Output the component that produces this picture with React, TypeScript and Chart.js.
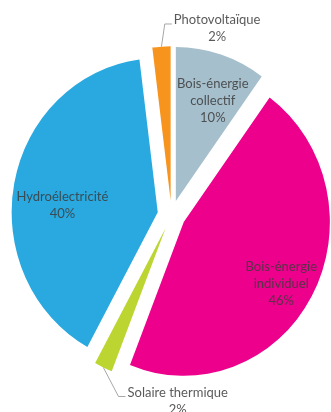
import React, { useEffect, useRef } from 'react';
import { Chart, registerables } from 'chart.js';

Chart.register(...registerables);

// ---- data ----
const categories = [
  'Bois-énergie collectif',
  'Bois-énergie individuel',
  'Solaire thermique',
  'Hydroélectricité',
  'Photovoltaïque',
];
const labelLines = [
  ['Bois-énergie', 'collectif'],
  ['Bois-énergie', 'individuel'],
  ['Solaire thermique'],
  ['Hydroélectricité'],
  ['Photovoltaïque'],
];
const shares = [10, 46, 2, 40, 2];
const colors = ['#A6BFCC', '#EC008C', '#BCD531', '#29A9E0', '#F7941D'];

// ---- styling / placement ----
const EXPLODE = 14; // px each slice is pulled out
const STRETCH_Y = 1.053; // the reference pie is slightly taller than wide
const FONT = '13px Lato, "Open Sans", sans-serif';
const LINE_H = 17;
const TEXT_COLOR = 'rgba(60,60,60,0.85)';
const LEADER_COLOR = '#A6A6A6';
// per slice: outside label?, radial fraction, angle bias (deg)
const placement = [
  { outside: false, frac: 0.70, bias: 3.2 },
  { outside: false, frac: 0.78, bias: 2.4 },
  { outside: true, frac: 1.14, bias: -8.8 },
  { outside: false, frac: 0.654, bias: -7 },
  { outside: true, frac: 1.146, bias: 1.6 },
];

const explodePlugin = {
  id: 'explode',
  afterDatasetsUpdate(chart: any) {
    const meta = chart.getDatasetMeta(0);
    meta.data.forEach((arc: any) => {
      const mid = (arc.startAngle + arc.endAngle) / 2;
      arc.x += Math.cos(mid) * EXPLODE;
      arc.y += Math.sin(mid) * EXPLODE;
    });
  },
};

const stretchPlugin = {
  id: 'stretch',
  beforeDatasetsDraw(chart: any) {
    const { ctx, chartArea } = chart;
    const cx = (chartArea.left + chartArea.right) / 2;
    const cy = (chartArea.top + chartArea.bottom) / 2;
    ctx.save();
    ctx.translate(cx, cy);
    ctx.scale(1, STRETCH_Y);
    ctx.translate(-cx, -cy);
  },
  afterDatasetsDraw(chart: any) {
    chart.ctx.restore();
  },
};

const labelPlugin = {
  id: 'sliceLabels',
  afterDraw(chart: any) {
    const { ctx, chartArea } = chart;
    const cy = (chartArea.top + chartArea.bottom) / 2;
    const toImg = (x: number, y: number) => ({ x, y: cy + STRETCH_Y * (y - cy) });
    const meta = chart.getDatasetMeta(0);
    ctx.save();
    ctx.font = FONT;
    ctx.textBaseline = 'middle';
    meta.data.forEach((arc: any, i: number) => {
      const p = placement[i];
      const R = arc.outerRadius;
      const mid = (arc.startAngle + arc.endAngle) / 2;
      const midB = mid + (p.bias * Math.PI) / 180;
      const lines = [...labelLines[i], `${shares[i]}%`];
      ctx.fillStyle = TEXT_COLOR;
      if (!p.outside) {
        const pos = toImg(arc.x + Math.cos(midB) * R * p.frac, arc.y + Math.sin(midB) * R * p.frac);
        ctx.textAlign = 'center';
        const y0 = pos.y - ((lines.length - 1) * LINE_H) / 2;
        lines.forEach((t, j) => ctx.fillText(t, pos.x, y0 + j * LINE_H));
      } else {
        const start = toImg(arc.x + Math.cos(mid) * R, arc.y + Math.sin(mid) * R);
        const elbow = toImg(arc.x + Math.cos(midB) * R * p.frac, arc.y + Math.sin(midB) * R * p.frac);
        ctx.strokeStyle = LEADER_COLOR;
        ctx.lineWidth = 1;
        ctx.beginPath();
        ctx.moveTo(start.x, start.y);
        ctx.lineTo(elbow.x, elbow.y);
        ctx.lineTo(elbow.x + 7, elbow.y);
        ctx.stroke();
        const maxW = Math.max(...lines.map((t) => ctx.measureText(t).width));
        const left = elbow.x + 9;
        ctx.textAlign = 'center';
        lines.forEach((t, j) => ctx.fillText(t, left + maxW / 2, elbow.y - 4 + j * LINE_H));
      }
    });
    ctx.restore();
  },
};

export default function App() {
  const ref = useRef<HTMLCanvasElement | null>(null);
  useEffect(() => {
    let chart: Chart | null = null;
    let cancelled = false;
    const make = () => {
      if (cancelled || !ref.current) return;
      chart = new Chart(ref.current, {
        type: 'pie',
        data: {
          labels: categories,
          datasets: [
            {
              data: shares,
              backgroundColor: colors,
              borderWidth: 0,
              clip: false as any,
            },
          ],
        },
        options: {
          responsive: false,
          animation: false,
          layout: { padding: { left: 25.4, right: 13.4, top: 30, bottom: 12.2 } },
          plugins: {
            legend: { display: false },
            tooltip: { enabled: false },
          },
        },
        plugins: [explodePlugin, stretchPlugin, labelPlugin],
      });
    };
    const fonts: any = (document as any).fonts;
    if (fonts && fonts.load) {
      fonts.load(FONT).then(make, make);
    } else {
      make();
    }
    return () => {
      cancelled = true;
      if (chart) chart.destroy();
    };
  }, []);
  return (
    <div style={{ position: 'absolute', left: 0, top: 0, width: 331, height: 412, background: '#fff' }}>
      <canvas ref={ref} width={331} height={412} style={{ display: 'block' }} />
    </div>
  );
}
